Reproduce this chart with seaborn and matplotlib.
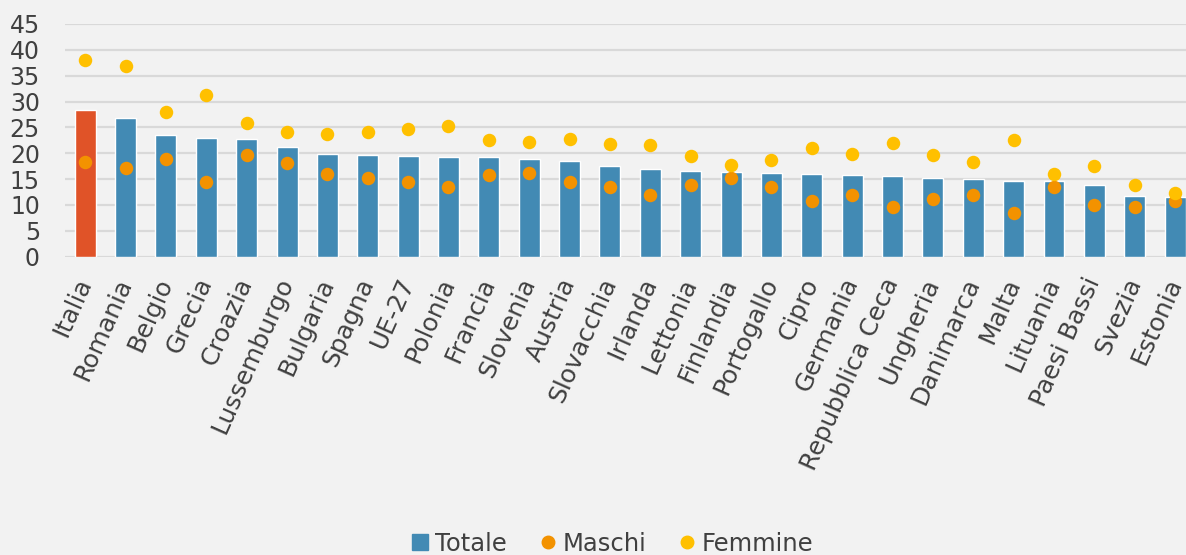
import numpy as np
import pandas as pd
import matplotlib
matplotlib.use('Agg')
import matplotlib.pyplot as plt
import seaborn as sns
from matplotlib.lines import Line2D

# -------------------------- 数据 --------------------------
paesi = ['Italia', 'Romania', 'Belgio', 'Grecia', 'Croazia', 'Lussemburgo', 'Bulgaria',
         'Spagna', 'UE-27', 'Polonia', 'Francia', 'Slovenia', 'Austria', 'Slovacchia',
         'Irlanda', 'Lettonia', 'Finlandia', 'Portogallo', 'Cipro', 'Germania',
         'Repubblica Ceca', 'Ungheria', 'Danimarca', 'Malta', 'Lituania', 'Paesi Bassi',
         'Svezia', 'Estonia']
totale = [28.3, 26.8, 23.5, 22.9, 22.7, 21.2, 19.8, 19.7, 19.5, 19.3, 19.2, 18.9, 18.5, 17.5,
          16.9, 16.5, 16.3, 16.2, 16.0, 15.8, 15.6, 15.2, 15.1, 14.7, 14.6, 13.8, 11.7, 11.5]
maschi = [18.4, 17.2, 18.9, 14.4, 19.7, 18.2, 16.0, 15.3, 14.4, 13.5, 15.8, 16.2, 14.4, 13.5,
          12.0, 13.8, 15.3, 13.5, 10.8, 12.0, 9.7, 11.1, 12.0, 8.4, 13.4, 10.0, 9.7, 10.8]
femmine = [38.0, 36.8, 28.0, 31.3, 25.8, 24.2, 23.8, 24.1, 24.6, 25.2, 22.5, 22.1, 22.7, 21.8,
           21.6, 19.4, 17.8, 18.7, 21.0, 19.8, 21.9, 19.6, 18.3, 22.5, 16.0, 17.6, 13.8, 12.4]

df = pd.DataFrame({'Paese': paesi, 'Totale': totale, 'Maschi': maschi, 'Femmine': femmine})

# -------------------------- 样式 --------------------------
bg = '#F2F2F2'
blu = '#428AB4'
rosso = '#E05328'
arancio = '#F39200'
giallo = '#FFC000'
testo = '#404040'

sns.set_theme(style='white')
plt.rcParams['font.family'] = ['DejaVu Sans']

fig = plt.figure(figsize=(11.86, 5.55), dpi=100, facecolor=bg)
ax = fig.add_axes([0.0548, 0.5375, 0.9452, 0.4193])
ax.set_facecolor(bg)

colori = [rosso if p == 'Italia' else blu for p in paesi]
sns.barplot(data=df, x='Paese', y='Totale', hue='Paese', palette=colori, legend=False,
            width=0.52, saturation=1, ax=ax, zorder=2)
sns.stripplot(data=df, x='Paese', y='Maschi', color=arancio, jitter=False, size=9.7,
              linewidth=0, ax=ax, zorder=3)
sns.stripplot(data=df, x='Paese', y='Femmine', color=giallo, jitter=False, size=9.7,
              linewidth=0, ax=ax, zorder=4)

ax.set_ylim(0, 45)
ax.set_xlim(-0.5, 27.27)
ax.set_yticks(range(0, 46, 5))
ax.yaxis.grid(True, color='#D9D9D9', linewidth=1.6, zorder=0)
ax.set_axisbelow(True)
for s in ax.spines.values():
    s.set_visible(False)
ax.set_xlabel('')
ax.set_ylabel('')
ax.tick_params(axis='y', length=0, pad=18, labelsize=17, labelcolor=testo)
ax.tick_params(axis='x', length=0, pad=16, labelsize=18, labelcolor=testo)
for lab in ax.get_xticklabels():
    lab.set_rotation(66)
    lab.set_ha('right')
    lab.set_va('center')
    lab.set_rotation_mode('anchor')

# 图例
handles = [
    Line2D([], [], marker='s', linestyle='', color=blu, markersize=12),
    Line2D([], [], marker='o', linestyle='', color=arancio, markersize=9),
    Line2D([], [], marker='o', linestyle='', color=giallo, markersize=9),
]
leg = fig.legend(handles, ['Totale', 'Maschi', 'Femmine'], loc='center',
                 bbox_to_anchor=(0.515, 0.02), ncol=3, frameon=False, fontsize=17.5,
                 handletextpad=0.1, columnspacing=1.2, handlelength=1.0)
for t in leg.get_texts():
    t.set_color(testo)

fig.savefig('out.png', dpi=100, facecolor=bg)
